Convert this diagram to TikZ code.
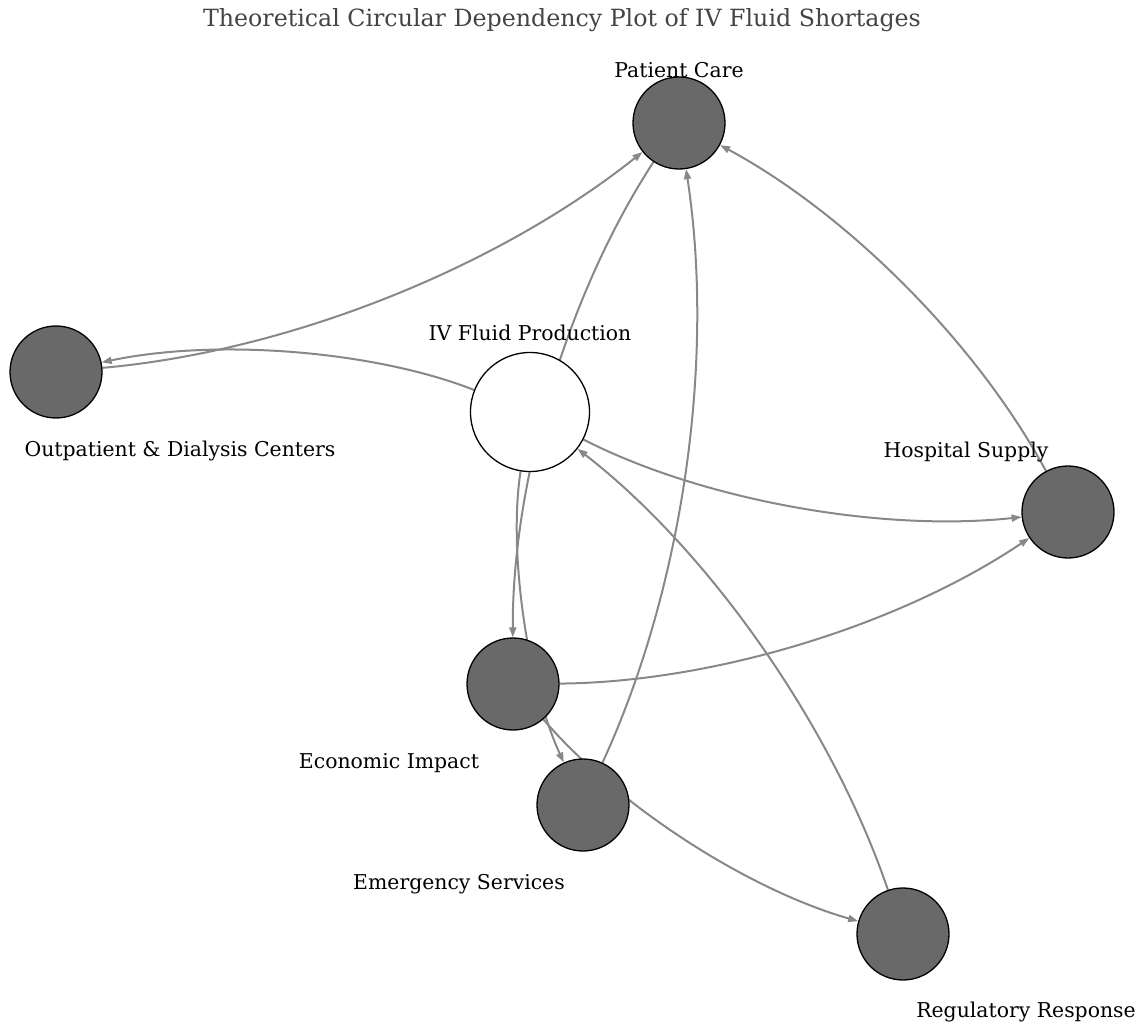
\documentclass[tikz,border=0pt]{standalone}
\usepackage{fontspec}
\setmainfont{DejaVu Serif}
\usetikzlibrary{arrows.meta,backgrounds}
\definecolor{edgegray}{HTML}{888888}
\definecolor{nodegray}{HTML}{696969}
\definecolor{titlegray}{HTML}{444444}
\begin{document}
\begin{tikzpicture}[x=1pt,y=-1pt,
  sat/.style={circle,draw=black,line width=1.3pt,fill=nodegray,minimum size=92pt,inner sep=0pt},
  hub/.style={sat,fill=white,minimum size=119pt},
  lbl/.style={anchor=base,font=\fontsize{20.4}{24}\selectfont,text=black,inner sep=0pt},
  dep/.style={draw=edgegray,line width=2pt,-{Triangle[length=10pt,width=7pt]}},
]
\useasboundingbox (0,0) rectangle (1144,1024);
\node[anchor=base,font=\fontsize{23.7}{28}\selectfont,text=titlegray,inner sep=0pt] (title) at (562,27) {Theoretical Circular Dependency Plot of IV Fluid Shortages};

\node[hub] (iv) at (530,412) {};
\node[sat] (pc) at (679,123) {};
\node[sat] (op) at (56,372) {};
\node[sat] (hs) at (1068,512) {};
\node[sat] (ei) at (513,684) {};
\node[sat] (es) at (583,805) {};
\node[sat] (rr) at (903,934) {};

\node[lbl] (pcl) at (679,78) {Patient Care};
\node[lbl] (opl) at (180,456) {Outpatient \& Dialysis Centers};
\node[lbl] (ivl) at (530,341) {IV Fluid Production};
\node[lbl] (hsl) at (966,457) {Hospital Supply};
\node[lbl] (eil) at (389,768) {Economic Impact};
\node[lbl] (esl) at (459,889) {Emergency Services};
\node[lbl] (rrl) at (1026,1017) {Regulatory Response};

% control points (quadratic arcs, rad 0.15, as cubic controls)
\coordinate (a1) at (376.0,351.3);  \coordinate (a2) at (218.0,337.9);
\coordinate (b1) at (288.6,351.3);  \coordinate (b2) at (496.2,268.3);
\coordinate (c1) at (699.3,499.1);  \coordinate (c2) at (878.7,532.5);
\coordinate (d1) at (977.2,343.4);  \coordinate (d2) at (847.6,213.8);
\coordinate (e1) at (567.6,293.4);  \coordinate (e2) at (512.2,480.4);
\coordinate (f1) at (508.4,548.3);  \coordinate (f2) at (526.0,679.3);
\coordinate (g1) at (683.2,587.3);  \coordinate (g2) at (715.2,359.9);
\coordinate (h1) at (715.2,682.2);  \coordinate (h2) at (900.2,624.8);
\coordinate (k1) at (618.0,806.3);  \coordinate (k2) at (748.0,889.7);
\coordinate (m1) at (830.9,722.7);  \coordinate (m2) at (706.5,548.7);

\begin{scope}[on background layer]
\draw[dep] (iv) .. controls (a1) and (a2) .. (op);
\draw[dep] (op) .. controls (b1) and (b2) .. (pc);
\draw[dep] (iv) .. controls (c1) and (c2) .. (hs);
\draw[dep] (hs) .. controls (d1) and (d2) .. (pc);
\draw[dep] (pc) .. controls (e1) and (e2) .. (ei);
\draw[dep] (iv) .. controls (f1) and (f2) .. (es);
\draw[dep] (es) .. controls (g1) and (g2) .. (pc);
\draw[dep] (ei) .. controls (h1) and (h2) .. (hs);
\draw[dep] (ei) .. controls (k1) and (k2) .. (rr);
\draw[dep] (rr) .. controls (m1) and (m2) .. (iv);
\end{scope}
\end{tikzpicture}
\end{document}
